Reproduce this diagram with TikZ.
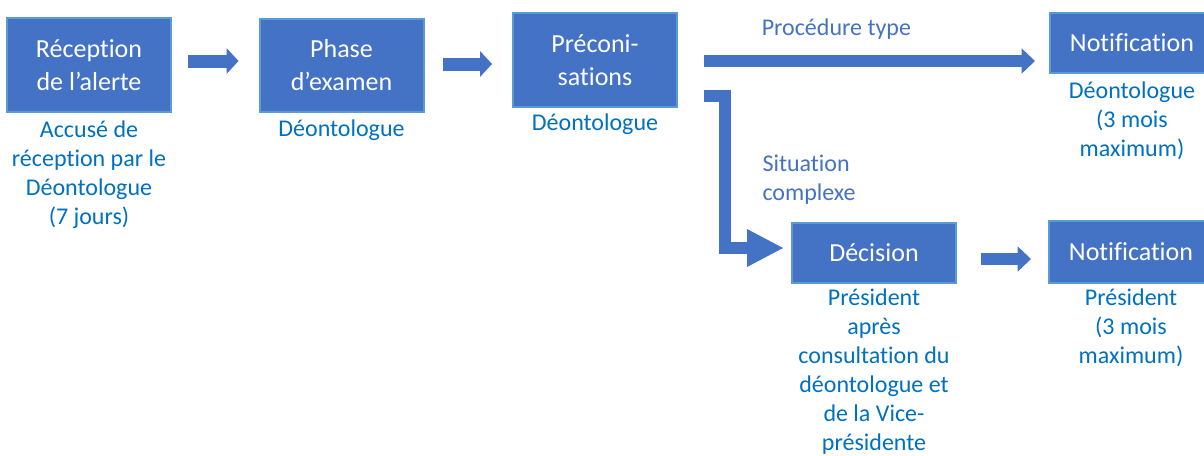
\documentclass[tikz,border=0pt]{standalone}
\usepackage{fontspec}
\setmainfont{Carlito}[Ligatures={TeX,NoCommon}]
\usetikzlibrary{positioning,arrows.meta,calc}

\definecolor{boxblue}{HTML}{4472C4}
\definecolor{edgeblue}{HTML}{5B9BD5}
\definecolor{txtblue}{HTML}{0070C0}

\tikzset{
  stage/.style={draw=edgeblue,line width=1.5pt,fill=boxblue,text=white,
    align=center,inner sep=0pt,minimum width=123pt,
    font=\fontsize{19.5}{24.75}\selectfont},
  who/.style={text=txtblue,align=center,inner sep=0pt,
    font=\fontsize{18}{21.75}\selectfont},
  route/.style={text=boxblue,inner sep=0pt,
    font=\fontsize{18}{21.75}\selectfont},
  flow/.style={draw=boxblue,line width=9.75pt,
    -{Triangle[length=9pt,width=19.5pt,line width=0pt]}},
  thinflow/.style={draw=boxblue,line width=9pt,
    -{Triangle[length=10pt,width=19pt,line width=0pt]}},
  bigflow/.style={draw=boxblue,line width=9pt,
    -{Triangle[length=27pt,width=28.5pt,line width=0pt]}}
}

\begin{document}
\begin{tikzpicture}[x=0.75pt,y=-0.75pt]

\useasboundingbox (0,0) rectangle (1204,455);

% stages
\node[stage,minimum height=70.5pt] (rec)    at (89,65)    {Réception\\de l’alerte};
\node[stage,minimum height=70pt]   (exam)   at (341.5,65.5) {Phase\\d’examen};
\node[stage,minimum height=70.5pt] (precon) at (595,60)   {Préconi-\\sations};
\node[stage,minimum height=45pt]   (notifA) at (1132,43)  {Notification};
\node[stage,minimum height=45pt]   (decis)  at (874,253)  {Décision};
\node[stage,minimum height=46.5pt] (notifB) at (1131,252) {Notification};

% who does what
\node[who,below=5.5pt of rec]    (recLbl)    {Accusé de\\réception par le\\Déontologue\\(7 jours)};
\node[who,below=5pt of exam]     (examLbl)   {Déontologue};
\node[who,below=4.5pt of precon] (preconLbl) {Déontologue};
\node[who,below=6pt of notifA]   (notifALbl) {Déontologue\\(3 mois\\maximum)};
\node[who,below=3.5pt of decis]  (decisLbl)  {Président\\après\\consultation du\\déontologue et\\de la Vice-\\présidente};
\node[who,below=3.5pt of notifB] (notifBLbl) {Président\\(3 mois\\maximum)};

% arrows
\draw[flow] ([shift={(16,-4)}]rec.east) -- ([shift={(-20,-4.5)}]exam.west);
\draw[flow] ([shift={(18,-1.5)}]exam.east) -- ([shift={(-20,4)}]precon.west);
\draw[thinflow] ([shift={(26,1)}]precon.east)
  -- node[route,pos=0.4,above=12pt] (procLbl) {Procédure type}
  ([shift={(-14,1)}]notifA.west |- precon.east);
\draw[bigflow] ([shift={(26,36)}]precon.east)
  -| node[route,pos=0.775,right=24pt,align=left] (cplxLbl) {Situation\\complexe}
  ([shift={(-66.5,-5)}]decis.west) -- ([shift={(-8,-5)}]decis.west);
\draw[thinflow] ([shift={(24,6)}]decis.east) -- ([shift={(-17,7)}]notifB.west);

\end{tikzpicture}
\end{document}
